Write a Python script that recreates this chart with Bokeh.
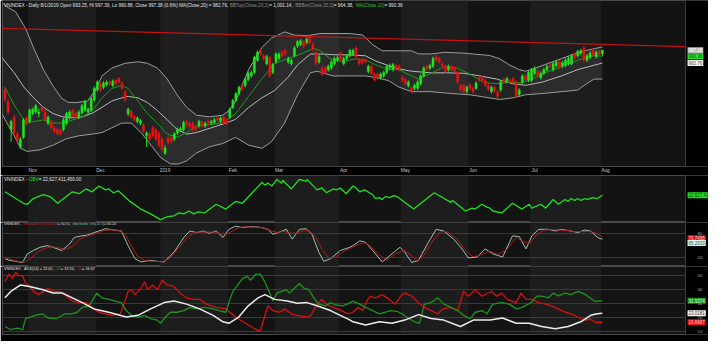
from bokeh.plotting import figure
from bokeh.layouts import column
from bokeh.models import Range1d, FixedTicker, Label, ColumnDataSource, LinearAxis
from bokeh.embed import file_html
from bokeh.resources import INLINE

# ---------------- data ----------------
month_names = ["Nov", "Dec", "2019", "Feb", "Mar", "Apr", "May", "Jun", "Jul", "Aug"]
month_start = [8, 30, 51, 73, 88, 109, 129, 151, 171, 194]

opens = [952,939,907,921,902,887,898,920,916,925,
 927,925,932,927,914,916,909,907,906,907,
 914,920,929,925,921,926,929,927,929,941,
 952,959,955,958,961,957,963,965,960,950,
 925,928,922,916,914,912,900,902,909,907,
 903,896,880,897,897,896,903,906,907,916,
 914,914,910,911,915,911,916,914,915,920,
 916,921,918,921,932,940,948,957,957,964,
 968,972,986,997,991,982,989,972,984,988,
 995,997,984,982,991,1002,1004,1007,1006,1013,
 1004,995,984,977,977,975,977,982,986,994,
 982,988,991,993,1000,986,987,986,973,979,
 970,970,966,968,972,977,975,980,979,966,
 964,957,954,954,954,959,968,979,977,979,
 990,988,982,979,975,979,977,972,957,957,
 950,958,954,954,966,966,963,957,950,955,
 950,952,964,962,963,965,961,947,961,968,
 963,963,971,973,966,971,975,980,975,980,
 984,979,980,982,982,993,991,994,1000,986,
 989,998,990,996,993.25]
closes = [941,927,916,904,895,896,918,913,929,930,
 934,927,929,918,921,909,905,902,902,918,
 925,927,923,920,927,934,939,930,942,954,
 961,952,960,961,959,962,959,961,954,941,
 930,921,918,920,917,905,903,896,900,896,
 889,884,886,892,893,902,907,908,915,912,
 910,907,907,916,911,914,914,916,918,918,
 920,914,914,930,940,948,955,953,964,971,
 972,989,995,993,988,990,968,981,993,993,
 991,993,988,986,1000,1007,1008,1002,1010,1006,
 998,982,990,970,972,979,984,988,989,986,
 988,991,997,997,990,982,983,984,979,971,
 964,966,970,972,979,980,981,977,975,963,
 959,961,950,957,961,968,977,976,980,988,
 986,984,980,973,979,975,973,961,952,950,
 955,954,950,960,963,963,957,953,955,951,
 945,961,961,965,961,961,945,952,968,964,
 972,975,977,968,971,975,979,979,982,984,
 977,983,986,988,991,989,996,997,986,991,
 994,992,995,993,997.38]
highs = [955,942,918,924,904,898,920,922,931,932,
 936,931,934,929,923,918,911,909,908,920,
 927,929,931,927,929,936,941,932,944,956,
 963,961,962,963,963,964,965,967,962,952,
 932,930,924,922,919,914,905,904,911,909,
 905,898,889,899,899,904,909,910,917,918,
 916,916,912,918,917,916,918,918,920,922,
 922,923,920,932,942,950,957,959,966,973,
 974,991,997,999,993,992,991,983,995,995,
 997,999,990,988,1002,1009,1010,1009,1012,1015,
 1006,997,992,979,979,981,986,990,991,996,
 990,993,999,999,1002,988,989,988,981,981,
 972,972,972,974,981,982,983,982,981,968,
 966,963,956,959,963,970,979,981,982,990,
 992,990,984,981,981,981,979,974,959,959,
 957,960,956,962,968,968,965,959,957,957,
 952,963,966,967,965,967,963,954,970,970,
 974,977,979,975,973,977,981,982,984,986,
 986,985,988,990,993,995,998,999,1002,993,
 996,1000,997,998,997.39]
lows = [938,924,893,901,892,885,896,911,914,923,
 925,921,927,916,912,907,903,900,900,905,
 912,918,921,918,919,924,927,925,927,939,
 950,950,953,956,957,955,957,959,952,938,
 922,919,916,914,912,903,887,894,898,894,
 887,882,878,890,891,894,901,904,905,910,
 908,905,905,909,909,909,912,912,913,916,
 914,912,912,919,930,938,946,951,955,962,
 966,970,984,991,986,980,966,970,982,986,
 989,991,982,980,989,1000,1002,1000,1004,1004,
 996,980,982,968,970,973,975,980,984,984,
 980,986,989,991,988,980,981,982,971,969,
 962,964,964,966,970,975,973,975,973,961,
 957,955,948,952,952,957,966,974,975,977,
 984,982,978,971,973,973,971,959,950,948,
 948,952,948,952,961,961,955,951,948,949,
 943,950,959,960,959,959,943,945,959,962,
 961,961,969,966,964,969,973,977,973,978,
 975,977,978,980,980,987,989,992,984,984,
 987,990,988,991,990.88]

trend_idx = [-1.3, 221]
trend_val = [1022.3, 1001.4]

bb_up_idx = [-1, 1, 3.5, 6.7, 9.3, 12.5, 15.7, 18.3, 20.4, 23, 26.8, 29.4, 31.5, 34.7, 39, 43.2, 46.3, 49.5, 52.7, 55.9,
             59, 62.2, 66.5, 70.7, 72.8, 74.9, 79.1, 83.4, 86.5, 90.8, 94, 98.2, 102.4, 106.6, 111.9, 116.2, 119.3, 122.5,
             127.8, 132, 134.2, 138.4, 142.6, 149, 157.4, 160.6, 163.8, 167, 169.1, 172.3, 176.5, 180.7, 185, 189.2, 194]
bb_up_val = [1052, 1046, 1041, 1022, 1000, 975, 956, 943, 938, 937.6, 939.4, 952, 968, 977, 982.4, 984.2, 982.4, 977, 964.5, 946.5,
             932.2, 923.2, 921.4, 923.2, 928.6, 939.4, 975.2, 1000.3, 1011, 1018.2, 1014.6, 1013.9, 1016.4, 1016.4, 1016.4, 1014.6, 1003.9, 996.7,
             996.7, 996.7, 993.1, 993.1, 994.9, 994, 991.3, 987.7, 980.6, 975.2, 973.4, 977, 982.4, 987.7, 993.1, 997.4, 1001.1]
bb_lo_idx = [-1, 1, 3, 5.1, 7.2, 11.4, 15.7, 19.9, 24.1, 28.4, 31.5, 34.7, 37.9, 41, 44.2, 47.4, 50.6, 53.8, 56.4, 59,
             62.2, 66.5, 70.7, 74.9, 79.1, 83.4, 86.5, 90.8, 95, 99.2, 101.4, 106.6, 111.9, 117.2, 120.4, 124.6, 127.8, 132,
             138.4, 143.7, 151.1, 160.6, 164.9, 169, 175.4, 180.7, 186, 188.1, 191.3, 194]
bb_lo_val = [925, 912, 900, 885.6, 882, 883.8, 889.2, 896.4, 899.9, 901.7, 903.5, 908.9, 914.3, 914.3, 903.5, 889.2, 874.9, 867.7, 867.7, 871.3,
             880.2, 887.4, 891, 898, 889.2, 885.6, 892.8, 914.3, 946.5, 971.6, 973.4, 968, 968, 968, 966.2, 962.7, 955.5, 950.1,
             950.1, 948.3, 946.5, 941.2, 943, 946.5, 948.3, 950.1, 951.9, 957.3, 964.5, 964.4]
ma20_idx = [-1, 3, 6.1, 9.3, 12.5, 15.7, 18.8, 22, 25.2, 28.4, 31.5, 34.7, 37.9, 40, 43.2, 46.3, 49.5, 52.7, 55.9, 59,
            62.2, 65.4, 68.6, 71.7, 74.9, 79.1, 83.4, 87.6, 91.8, 95, 99.2, 103, 107, 112, 117, 120.4, 124.6, 128, 132,
            138.4, 143.7, 149, 154.3, 159.6, 164.9, 169.1, 174.4, 180.7, 186, 194]
ma20_val = [989, 971.6, 955.5, 943, 932.2, 925, 921.4, 920.4, 921.4, 925.7, 932.2, 939.4, 943, 944.7, 943, 937.6, 928.6, 917.9, 907.1, 901.7,
            903.5, 907.1, 910.7, 914.3, 918.6, 932, 943, 951.5, 966, 980.5, 993, 993, 992.2, 992, 991, 985, 979.7, 976, 973.4,
            971.5, 971.6, 971, 968, 964.5, 959.1, 957.3, 960.9, 968, 975.2, 982.8]
ma10_idx = [0, 3, 6.7, 9.3, 12.5, 15.7, 18.8, 22, 25.2, 28.4, 31.5, 34.7, 37.9, 40, 43.2, 46.3, 49.5, 52.7, 55.9, 59,
            62.2, 66.5, 70.7, 74.9, 79.1, 83.4, 87.6, 91.8, 96.1, 100.3, 102.4, 105.6, 109.8, 114, 117.2, 120.4, 124.6, 127.8,
            131, 134.2, 138.4, 142.6, 146.9, 151.1, 155.3, 159.6, 163.8, 168, 171.2, 175.4, 180.7, 186, 191.3, 194]
ma10_val = [955, 935, 914.3, 916, 917.9, 914.3, 914.3, 917.9, 921.4, 928.6, 942.9, 953.7, 957.3, 953.7, 939.4, 925, 914.3, 901.7, 898.2, 903.5,
            910.7, 912.5, 914.3, 925, 944.7, 964.5, 982.4, 987.7, 993.1, 999.6, 996.7, 987.7, 984.2, 987.7, 986, 980.6, 975.2, 975.2,
            969.8, 964.5, 971, 978.8, 977, 969.8, 960.9, 959.1, 960.9, 960.2, 964.5, 971.6, 978.8, 986, 991.3, 990.4]

# OBV in billions
obv_idx = [0, 6, 7.3, 9.2, 12.4, 14.6, 17.1, 21.9, 24.1, 26.3, 28.3, 30.5, 32.7, 33.7, 35.2, 36.8, 40.6, 44.1, 47.3, 50.5,
           52.7, 54.9, 56.5, 58.1, 59.7, 61.3, 62.9, 64.8, 68.6, 71.7, 74.9, 77.1, 83.5, 84.4, 85.4, 86.7, 88.3, 89.8, 90.2, 93,
           95.6, 97.8, 98.1, 101.3, 102.9, 104.4, 106.7, 107.6, 108.9, 110.8, 113, 114, 115.2, 116.8, 119.4, 120.3, 121.6, 122.5,
           123.5, 124.8, 126.3, 127.3, 132.7, 139.4, 144.8, 145.4, 149.5, 151.7, 152.7, 154.9, 156.5, 157.5, 158.4, 161.3, 164.8,
           167.9, 170.2, 171.1, 174, 175.6, 178, 179.7, 181.9, 182.9, 183.8, 185, 186, 187, 188.3, 189.2, 190.8, 192.4, 194]
obv_val = [23.05, 21.61, 21.49, 22.21, 22.69, 22.45, 21.61, 23.05, 22.81, 23.41, 23.05, 23.77, 23.29, 23.41, 22.93, 23.17, 21.85, 20.89, 20.29, 19.57,
           19.93, 20.05, 20.41, 20.29, 20.65, 20.29, 20.53, 20.41, 21.49, 20.89, 21.85, 21.61, 24.25, 23.89, 24.13, 23.77, 24.61, 24.13, 24.49, 23.41,
           24.61, 24.37, 24.61, 23.29, 23.53, 22.93, 23.41, 23.29, 23.53, 22.81, 23.77, 23.53, 23.05, 23.29, 22.69, 22.21, 22.33, 22.09,
           22.45, 22.33, 22.57, 22.45, 20.89, 22.93, 21.73, 21.97, 20.65, 21.01, 20.89, 21.49, 21.13, 21.01, 20.65, 20.41, 21.61,
           20.89, 21.49, 21.01, 21.49, 21.01, 22.09, 21.49, 22.09, 21.85, 22.21, 21.97, 22.21, 21.97, 22.21, 22.09, 22.33, 22.21, 22.63]

stk_idx = [0, 1.3, 3.5, 5.7, 7.3, 9.2, 11.4, 13.7, 15.6, 18.4, 21, 22.5, 24.8, 26.7, 28.9, 30.5, 32.7, 35.2, 37.8, 40,
           42.2, 44.1, 47.3, 49.5, 51.7, 54.9, 58.1, 60, 62.2, 64.4, 66.3, 68.6, 70.8, 72.7, 74.9, 77.1, 79, 81.3, 83.5, 85.4,
           87, 89.2, 91.4, 93.3, 95.6, 97.8, 99.7, 101.9, 103.5, 105.7, 108.9, 112, 113, 115.2, 117.1, 119.4, 122.5, 125.7, 128.3,
           129.8, 132.1, 134.3, 137.5, 140, 142.5, 145.7, 148, 150.5, 153.3, 155.9, 158.4, 161.6, 164.8, 167, 169.2, 171.1, 173.3,
           176.5, 178.7, 180.6, 183.8, 186, 188.3, 190.2, 192.4, 194]
stk_val = [17.5, 14, 11, 8, 29.6, 37.5, 45.6, 49.5, 45.6, 37.5, 53.6, 69.7, 73.6, 75.2, 81.7, 85.6, 91.3, 88, 85.6, 49.5,
           17.5, 9.6, 13.5, 11, 9.6, 33.6, 69.7, 85.6, 81.7, 85.6, 80, 85.6, 69.7, 89.7, 97.6, 93.8, 96, 96, 93.8, 89.7,
           77.6, 83.2, 89.7, 65.6, 89.7, 91.3, 77.6, 33.6, 11, 17.5, 37.5, 45.6, 49.5, 61.5, 57.7, 37.5, 9.6, 29.6, 45.6,
           33.6, 8, 13.5, 57.7, 89.7, 85.6, 65.6, 45.6, 19.2, 21.6, 41.6, 29.6, 21.6, 73.6, 72, 41.6, 73.6, 89.7,
           89.7, 85.6, 89.7, 85.6, 81.7, 88, 85.6, 69.7, 65.2]
std_idx = [0, 2, 4, 6.5, 8.5, 10.5, 12.5, 15, 17, 19.5, 22, 24, 26, 28, 30, 32, 34.5, 37, 39, 41, 43, 45.5, 48, 51, 53.5,
           56.5, 59.5, 61.5, 63.5, 66, 68, 70, 72, 74, 76, 78, 80.5, 82.5, 84.5, 86.5, 88.5, 90.5, 92.5, 94.5, 96.5, 98.5, 101,
           103, 105, 107, 110, 114, 116.5, 118.5, 121, 124, 127, 129.5, 131.5, 134, 136, 139, 141.5, 143.5, 147, 149.5, 152, 155,
           157.5, 160, 163, 166, 168, 170.5, 172.5, 175, 177.5, 180, 182.5, 185, 187.5, 190, 192, 194]
std_val = [20, 15, 11, 9, 20, 33, 42, 47, 45, 40, 48, 64, 72, 76, 81, 86, 89, 87, 78, 50, 24, 12, 11, 10, 18,
           45, 72, 82, 83, 83, 83, 79, 78, 86, 94, 96, 95, 95, 92, 86, 82, 85, 80, 80, 85, 88, 70,
           40, 20, 20, 35, 50, 57, 50, 30, 14, 30, 38, 28, 12, 25, 62, 84, 84, 64, 38, 22, 28,
           36, 28, 40, 70, 60, 55, 76, 88, 89, 88, 87, 84, 84, 85, 80, 70.75]

mdi_idx = [0, 1.3, 2.5, 3.5, 4.4, 5.7, 6.7, 8.3, 9.2, 10.8, 12.4, 14, 15.6, 17.8, 20, 21.9, 24.1, 26.3, 28.3, 30.5,
           32.7, 34.6, 37.5, 38.4, 40, 41, 42.2, 43.8, 45.4, 46.3, 47.9, 49.5, 51.1, 52.7, 54.9, 56.8, 59, 61.3, 63.2, 65.4,
           68.6, 71.7, 74.9, 78.1, 80.6, 82.9, 83.8, 85.4, 87, 89.2, 90.8, 93, 94.9, 97.8, 99.4, 101, 102.9, 104.4, 106.7,
           109.2, 111.4, 113, 114.6, 116.2, 117.8, 118.7, 120.3, 122.5, 124.8, 126.7, 128.9, 129.8, 132.1, 134.3, 136.2, 138.4,
           140.6, 142.2, 144.8, 147, 148.9, 150.5, 152.7, 154.9, 156.5, 158.1, 159.7, 161.3, 163.2, 166, 167.6, 169.2, 171.1,
           173.3, 175.6, 177.5, 179.7, 181.9, 183.8, 186, 188.3, 190.2, 191.8, 194]
mdi_val = [45.6, 51.2, 48, 52.4, 50, 50, 44.4, 42.1, 38.7, 36.4, 38.7, 41, 38.7, 38.7, 35.3, 31.8, 30.7, 30.7, 27.3, 23.8,
           22.7, 21.6, 22.7, 28.4, 38.7, 39.9, 36.4, 39.9, 45.5, 39.9, 43.3, 40, 46.7, 43.3, 42.1, 37.5, 34.1, 33, 33, 29.6,
           27.3, 26.2, 20.4, 15.9, 12.5, 10.1, 17, 28.4, 25, 23.8, 26.2, 22.7, 21.6, 20.4, 21.6, 28.4, 33, 29.6, 27.3,
           25, 22.7, 23.8, 27.3, 25, 33, 35.3, 34, 36.4, 33, 29.6, 36.4, 37.5, 35.3, 30.7, 27.3, 25,
           22.7, 26.2, 27.3, 25, 38.7, 35.3, 39.9, 35.3, 37, 38.7, 35.3, 37.5, 33, 30.7, 37.5, 33, 33,
           30.7, 29.6, 28.4, 26.2, 23.8, 22.7, 20.4, 18.2, 18.8, 16.5, 16.67]
pdi_idx = [0, 1.9, 4.1, 5.7, 6.7, 8.3, 9.8, 12.1, 14, 16.8, 19.4, 21.6, 23.5, 25.1, 27.3, 28.9, 29.8, 31.4, 33.7, 35.9,
           37.8, 39.4, 41, 43.2, 45.4, 47.3, 49.5, 50.5, 51.7, 53.7, 55.9, 58.1, 60, 62.2, 64.8, 67.6, 69.5, 71.7, 72.7, 74,
           75.6, 77.1, 78.7, 79.7, 81.3, 82.9, 84.4, 86, 87, 88.3, 89.8, 91.4, 92.4, 94, 95.6, 97.1, 98.7, 100.3, 101.9, 104.1,
           105.7, 107.6, 109.8, 112.1, 113, 115.2, 117.1, 119.4, 121.6, 123.5, 125.1, 127.3, 128.9, 131.1, 133, 134.6, 136.2,
           138.4, 140.6, 142.5, 144.8, 147, 148.9, 151.1, 152.7, 154.9, 156.5, 158.4, 161.3, 163.8, 166, 167.9, 170.8, 172.7,
           174.3, 176.5, 178.1, 179.7, 181.9, 183.8, 186, 187.6, 189.2, 191.4, 194]
pdi_val = [13.6, 11.3, 12.5, 11.3, 19.3, 20.4, 21.6, 22.7, 19.7, 19.3, 22.7, 22.7, 23.8, 27.3, 28.4, 34.1, 37.5, 34.1, 33, 31.8,
           30.7, 25, 21.6, 20.4, 21.6, 19.3, 18.2, 15.9, 19.3, 23.8, 23.8, 25, 27.3, 26.2, 27.3, 26.2, 25, 23.8, 30.7, 38.7,
           43.3, 47.8, 49.5, 46.7, 50.8, 51.2, 45.5, 37.5, 31.8, 37.5, 38.7, 39.9, 37.5, 41, 44.4, 41, 39.9, 34.1, 29.6, 28.4,
           30.7, 29, 28.4, 30.7, 31.8, 29.6, 27.3, 25, 22.7, 23.8, 25, 24.5, 22.7, 19.3, 17, 15.9, 29.6,
           30.7, 34.1, 29.6, 27.3, 25, 21.6, 19.3, 23.8, 25, 22.7, 29.6, 30.7, 29.6, 26.2, 27.3, 30.7, 35.3,
           35.3, 34.1, 37.5, 35.5, 37.5, 36.4, 38.7, 37.5, 35.3, 31.8, 31.94]
adx_idx = [0, 1.9, 5.1, 8.3, 12.4, 15.6, 18.7, 21.9, 25.1, 28.9, 33.7, 39.4, 43.2, 47.3, 51.7, 54.9, 59, 63.2, 67.6, 70.8,
           72.7, 75.9, 79, 82.2, 84.4, 87.6, 91.7, 94.9, 98.1, 101.3, 105.7, 108.9, 112.1, 113, 117.1, 121.6, 125.7, 129.8, 134.3,
           138.4, 142.5, 147.9, 152.1, 157.5, 161.6, 166, 170.2, 174.3, 178.7, 182.9, 187, 190.2, 192.4, 194]
adx_val = [34.1, 38.7, 43.3, 42.1, 39.9, 37.5, 37.5, 34.1, 30.7, 26.2, 23.8, 20.4, 21.6, 26.2, 30.7, 31.8, 29.6, 26.2, 21.6, 17,
           15.9, 20.4, 28.4, 34.1, 36.4, 33, 31.8, 30.3, 30.7, 28.4, 25, 21.6, 18.2, 17, 14.7, 17, 15.9, 18.2, 22.1,
           19.3, 18.2, 13.6, 18.2, 18.2, 19.7, 15.9, 15.9, 13.6, 12, 13.6, 17, 21.6, 22.7, 23.02]

# ---------------- layout / style ----------------
W, LB = 708, 2
BG, BAND = "#131313", "#1d1d1d"
FONT = "Liberation Sans"
PLOT_END = 221          # right edge of the charting area (in trading-day index)
AXIS_AT = 222.6         # where the right-hand tick labels sit (inside the black margin)
xr = Range1d(-0.8, 228.46)

AW = {' ': 278, '%': 889, '(': 333, ')': 333, '+': 584, ',': 278, '-': 333, '.': 278, '/': 278, '=': 584,
      'A': 667, 'B': 667, 'C': 722, 'D': 722, 'E': 667, 'H': 722, 'I': 278, 'K': 667, 'L': 556, 'M': 833,
      'N': 722, 'O': 778, 'P': 667, 'S': 667, 'T': 611, 'V': 667, 'X': 667, 'a': 556, 'c': 500, 'e': 556,
      'h': 556, 'i': 222, 'k': 500, 'l': 222, 'n': 556, 'o': 556, 'p': 556, 's': 500, 't': 278, 'y': 500}


def em(s):
    return sum(AW.get(ch, 556) for ch in s) / 1000.0


edges = [-10] + month_start + [PLOT_END + 0.5]
band_l = [edges[k] - 0.5 for k in range(len(edges) - 1) if k % 2 == 1]
band_r = [edges[k + 1] - 0.5 for k in range(len(edges) - 1) if k % 2 == 1]


def make(h, y0, y1, bottom=0, xaxis=False, rticks=None):
    p = figure(width=W, height=h, x_range=xr, y_range=Range1d(y0, y1),
               output_backend="svg", toolbar_location=None,
               min_border_left=LB, min_border_right=0, min_border_top=0, min_border_bottom=bottom,
               background_fill_color=BG, border_fill_color="#000000", outline_line_color="#4a4a4a",
               x_axis_location=("below" if xaxis else None), y_axis_location=None)
    p.quad(left=band_l, right=band_r, bottom=y0, top=y1, fill_color=BAND, line_color=None)
    for g in p.xgrid:
        g.visible = False
    for g in p.ygrid:
        g.visible = False
    if rticks:
        ax = LinearAxis(ticker=FixedTicker(ticks=rticks), fixed_location=AXIS_AT,
                        axis_line_color=None, major_tick_line_color=None, minor_tick_line_color=None,
                        major_label_text_color="#a8a8a8", major_label_text_font_size="4.4px",
                        major_label_text_font=FONT, major_label_standoff=1)
        p.add_layout(ax, "right")
        p.hspan(y=rticks, line_color="#3a3a3a", line_width=1)
    # black margin on the right, holding the value call-outs
    p.quad(left=[PLOT_END], right=[xr.end + 5], bottom=y0, top=y1, fill_color="#000000", line_color=None)
    p.vspan(x=[PLOT_END], line_color="#3a3a3a", line_width=1)
    return p


def header(p, y, parts, width):
    fs = width / em("".join(t for t, _ in parts))
    x = 1.5
    for txt, col in parts:
        p.add_layout(Label(x=x, y=y, x_units="screen", text=txt, text_color=col,
                           text_font_size=f"{fs:.2f}px", text_font=FONT, text_baseline="middle"))
        x += em(txt) * fs


def callout(p, y, txt, bg, fg):
    p.add_layout(Label(x=PLOT_END, y=y, x_offset=2, text=txt, text_color=fg, text_font=FONT,
                       text_font_size="4.5px", text_baseline="middle",
                       background_fill_color=bg, padding=1))


# ---------- price pane ----------
p1 = make(175, 864.8, 1054.0, bottom=7, xaxis=True)
N = len(closes)
inc = [i for i in range(N) if closes[i] >= opens[i]]
dec = [i for i in range(N) if closes[i] < opens[i]]

p1.patch(bb_up_idx + bb_lo_idx[::-1], bb_up_val + bb_lo_val[::-1], fill_color="#ffffff", fill_alpha=0.07, line_color=None)
p1.line(bb_up_idx, bb_up_val, line_color="#9c9c9c", line_width=1)
p1.line(bb_lo_idx, bb_lo_val, line_color="#9c9c9c", line_width=1)
p1.line(ma20_idx, ma20_val, line_color="#b8b8b8", line_width=1)
p1.line(ma10_idx, ma10_val, line_color="#1e9a1e", line_width=1)
p1.line(trend_idx, trend_val, line_color="#c41212", line_width=1.3)

for sel, col in ((inc, "#1ee61e"), (dec, "#e81212")):
    src = ColumnDataSource(dict(
        x=sel,
        lo=[lows[i] for i in sel], hi=[highs[i] for i in sel],
        top=[max(opens[i], closes[i]) for i in sel], bot=[min(opens[i], closes[i]) for i in sel]))
    p1.segment(x0="x", y0="lo", x1="x", y1="hi", source=src, line_color=col, line_width=1)
    p1.vbar(x="x", width=0.66, top="top", bottom="bot", source=src, fill_color=col, line_color=col, line_width=0.5)

p1.xaxis.ticker = FixedTicker(ticks=[m + 1 for m in month_start])
p1.xaxis.major_label_overrides = {m + 1: n for m, n in zip(month_start, month_names)}
p1.xaxis.axis_line_color = None
p1.xaxis.major_tick_line_color = None
p1.xaxis.minor_tick_line_color = None
p1.xaxis.major_tick_out = 0
p1.xaxis.major_label_standoff = 1
p1.xaxis.major_label_text_font_size = "4.8px"
p1.xaxis.major_label_text_font = FONT
p1.xaxis.major_label_text_color = "#c8c8c8"

header(p1, 1048.3, [
    ("VNINDEX - Daily 8/1/2019 Open 993.25, Hi 997.39, Lo 990.88, Close 997.38 (0.6%) MA(Close,20) = 982.76, ", "#e0e0e0"),
    ("BBTop(Close,20,2)", "#8c8c8c"), (" = 1,001.14, ", "#e0e0e0"),
    ("BBBot(Close,20,2)", "#8c8c8c"), (" = 964.38, ", "#e0e0e0"),
    ("MA(Close,10)", "#22c022"), (" = 990.36", "#e0e0e0")], 400)
callout(p1, 997.38, "997.38", "#bdbdbd", "#ffffff")
callout(p1, 990.36, "990.36", "#2ee62e", "#0d3d0d")
callout(p1, 982.76, "982.76", "#f2f2f2", "#555555")

# ---------- OBV pane ----------
p2 = make(47, 19.21, 25.09)
p2.line(obv_idx, obv_val, line_color="#22dd22", line_width=1.3)
header(p2, 24.55, [("VNINDEX - ", "#e0e0e0"), ("OBV", "#22dd22"), (" = 22,627,411,456.00", "#e0e0e0")], 79)
callout(p2, 22.63, "22,627,41", "#22dd22", "#0d3d0d")

# ---------- Stochastic pane ----------
p3 = make(44, -1.7, 106.5, rticks=[20, 80])
p3.line(stk_idx, stk_val, line_color="#9cc2b2", line_width=1)
p3.line(std_idx, std_val, line_color="#b01c1c", line_width=1)
header(p3, 101.7, [("VNINDEX - ", "#e0e0e0"), ("Stochastic %D(14,3,3)", "#d02020"), (" = 70.75, ", "#e0e0e0"),
                   ("Stochastic %K(14,3)", "#6fc8ad"), (" = 65.20", "#e0e0e0")], 113)
callout(p3, 68.0, "70.7495", "#e01010", "#ffd0d0")
callout(p3, 56.0, "65.2033", "#d8f0ea", "#2a5a4c")

# ---------- ADX pane ----------
p4 = make(75, 7.9, 56.5, bottom=7, rticks=[10, 20, 30, 40, 50])
p4.line(mdi_idx, mdi_val, line_color="#d81010", line_width=1.3)
p4.line(pdi_idx, pdi_val, line_color="#1f931f", line_width=1.3)
p4.line(adx_idx, adx_val, line_color="#ececec", line_width=1.5)
header(p4, 54.5, [("VNINDEX - ADX(14) = 23.02, ", "#e0e0e0"), ("+DI", "#22aa22"), (" = 31.94, ", "#e0e0e0"),
                  ("-DI", "#e01010"), (" = 16.67", "#e0e0e0")], 92)
callout(p4, 31.94, "31.9374", "#1f931f", "#d8ffd8")
callout(p4, 23.02, "23.0181", "#f4f4f4", "#333333")
callout(p4, 16.67, "16.6667", "#e01010", "#ffd0d0")

layout = column(p1, p2, p3, p4, spacing=0)
open("out.html", "w").write(file_html(layout, INLINE))
